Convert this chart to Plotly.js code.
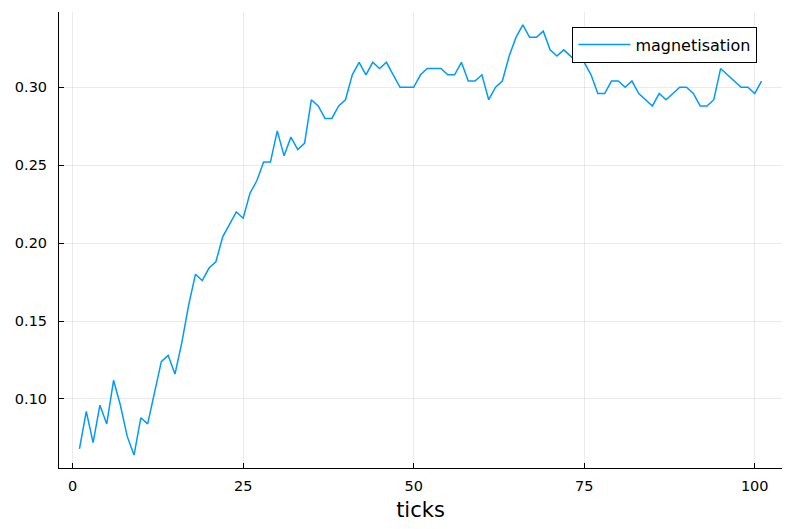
<!DOCTYPE html>
<html>
<head>
<meta charset="utf-8">
<script src="https://cdn.plot.ly/plotly-3.0.1.min.js"></script>
<style>
  html, body { margin: 0; padding: 0; background: #fff; }
  #chart { width: 796px; height: 529px; }
</style>
</head>
<body>
<div id="chart"></div>
<script>
const seriesName = "magnetisation";
const xTitle = "ticks";
const ticks = [1,2,3,4,5,6,7,8,9,10,11,12,13,14,15,16,17,18,19,20,21,22,23,24,25,26,27,28,29,30,31,32,33,34,35,36,37,38,39,40,41,42,43,44,45,46,47,48,49,50,51,52,53,54,55,56,57,58,59,60,61,62,63,64,65,66,67,68,69,70,71,72,73,74,75,76,77,78,79,80,81,82,83,84,85,86,87,88,89,90,91,92,93,94,95,96,97,98,99,100,101];
const magnetisation = [
  0.068,0.092,0.072,0.096,0.084,0.112,0.096,0.076,0.064,0.088,
  0.084,0.104,0.124,0.128,0.116,0.136,0.160,0.180,0.176,0.184,
  0.188,0.204,0.212,0.220,0.216,0.232,0.240,0.252,0.252,0.272,
  0.256,0.268,0.260,0.264,0.292,0.288,0.280,0.280,0.288,0.292,
  0.308,0.316,0.308,0.316,0.312,0.316,0.308,0.300,0.300,0.300,
  0.308,0.312,0.312,0.312,0.308,0.308,0.316,0.304,0.304,0.308,
  0.292,0.300,0.304,0.320,0.332,0.340,0.332,0.332,0.336,0.324,
  0.320,0.324,0.320,0.316,0.316,0.308,0.296,0.296,0.304,0.304,
  0.300,0.304,0.296,0.292,0.288,0.296,0.292,0.296,0.300,0.300,
  0.296,0.288,0.288,0.292,0.312,0.308,0.304,0.300,0.300,0.296,
  0.304
];
const xTickVals = [0, 25, 50, 75, 100];
const xTickText = ["0", "25", "50", "75", "100"];
const yTickVals = [0.10, 0.15, 0.20, 0.25, 0.30];
const yTickText = ["0.10", "0.15", "0.20", "0.25", "0.30"];

const xmin = Math.min(...ticks), xmax = Math.max(...ticks);
const ymin = Math.min(...magnetisation), ymax = Math.max(...magnetisation);
const xpad = 0.03 * (xmax - xmin), ypad = 0.03 * (ymax - ymin);

const font = "DejaVu Sans, sans-serif";
const trace = {
  x: ticks, y: magnetisation, type: "scatter", mode: "lines",
  name: seriesName,
  line: { color: "#009AFA", width: 1.5 }
};
const axisCommon = {
  showline: true, linecolor: "#000", linewidth: 1,
  ticks: "inside", ticklen: 5, tickcolor: "#000", tickwidth: 1,
  showgrid: true, gridcolor: "rgba(0,0,0,0.08)", gridwidth: 1,
  zeroline: false, mirror: false,
  tickfont: { family: font, size: 14.5, color: "#000" }
};
const layout = {
  width: 796, height: 529,
  margin: { l: 59, r: 14, t: 12, b: 61 },
  paper_bgcolor: "#fff", plot_bgcolor: "#fff",
  showlegend: true,
  xaxis: Object.assign({}, axisCommon, {
    range: [xmin - xpad, xmax + xpad],
    tickmode: "array", tickvals: xTickVals, ticktext: xTickText,
    ticklabelstandoff: 5,
    title: { text: xTitle, font: { family: font, size: 21, color: "#000" }, standoff: 8 }
  }),
  yaxis: Object.assign({}, axisCommon, {
    range: [ymin - ypad, ymax + ypad],
    tickmode: "array", tickvals: yTickVals, ticktext: yTickText,
    ticklabelstandoff: 8
  }),
  legend: {
    x: 0.966, xanchor: "right", y: 0.968, yanchor: "top",
    bgcolor: "#fff", bordercolor: "#000", borderwidth: 1,
    font: { family: font, size: 16, color: "#000" },
    itemwidth: 52
  }
};
Plotly.newPlot("chart", [trace], layout, { displayModeBar: false, staticPlot: true });
</script>
</body>
</html>
